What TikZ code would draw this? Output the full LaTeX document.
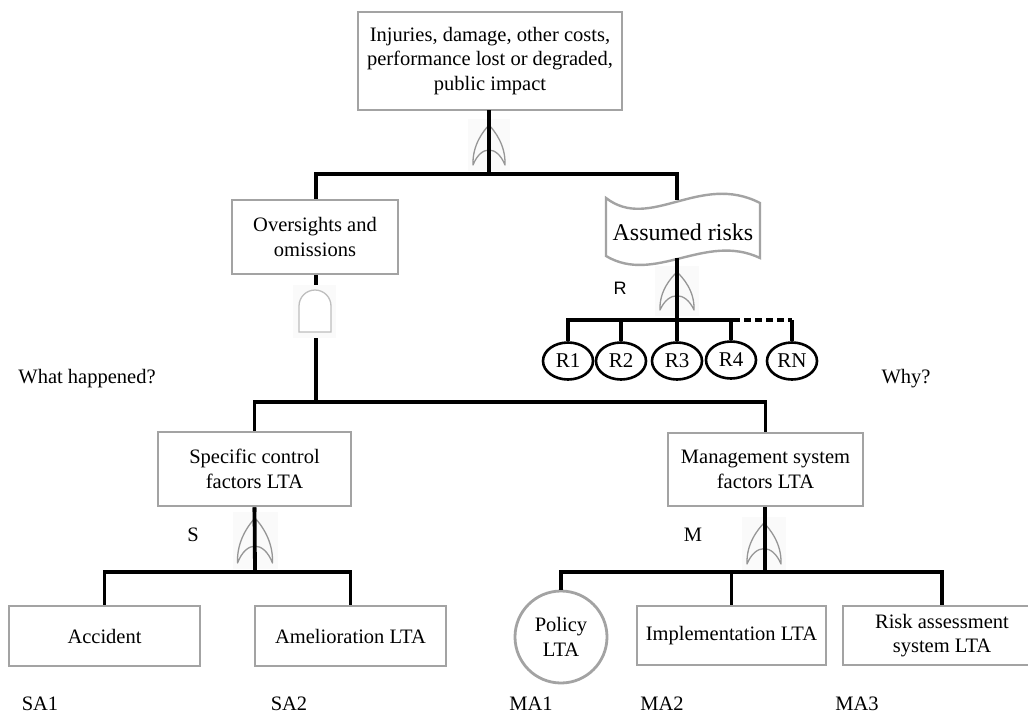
\documentclass[tikz,border=0pt]{standalone}
\usepackage{fontspec}
\usetikzlibrary{shapes.geometric}
\setmainfont{Liberation Serif}
\newfontfamily\labelsans{Liberation Sans}
\definecolor{boxgray}{RGB}{163,163,163}
\definecolor{gategray}{RGB}{150,150,150}
\definecolor{andgray}{RGB}{190,190,190}
\tikzset{
  conn/.style={line width=3.8pt, black},
  ebox/.style={draw=boxgray, line width=2.8pt, fill=white, rectangle, align=center,
               font=\fontsize{20.5}{24.5}\selectfont, inner sep=0pt},
  risknode/.style={draw=black, line width=2.6pt, ellipse, minimum width=50pt, minimum height=37pt,
                   inner sep=0pt, fill=white, font=\fontsize{21}{22}\selectfont},
  plain/.style={font=\fontsize{20.5}{24.5}\selectfont, inner sep=0pt},
  orgate/.style={draw=gategray, line width=1.3pt, line join=round},
  andgate/.style={draw=andgray, line width=1.3pt, fill=white},
  haze/.style={fill=black!2, draw=none}
}
% OR gate: #1 centre x, #2 tip y, #3 half width, #4 height
\newcommand{\orgatesym}[4]{%
  \fill[haze] (#1-#3-5,#2-6) rectangle (#1+#3+5,#2+#4+6);
  \draw[orgate] (#1,#2)
    .. controls (#1-0.35*#3,#2+0.15*#4) and (#1-1.05*#3,#2+0.5*#4) .. (#1-#3,#2+#4)
    .. controls (#1-0.5*#3,#2+0.5*#4) and (#1+0.5*#3,#2+0.5*#4) .. (#1+#3,#2+#4)
    .. controls (#1+1.05*#3,#2+0.5*#4) and (#1+0.35*#3,#2+0.15*#4) .. cycle;}
\begin{document}
\begin{tikzpicture}[x=1pt,y=-1pt]
\clip (0,0) rectangle (1028,715);
\fill[white] (0,0) rectangle (1028,715);

% ---- event boxes ----
\node[ebox, minimum width=264pt, minimum height=98pt] (top) at (490,61)
  {Injuries, damage, other costs,\\performance lost or degraded,\\public impact};
\node[ebox, minimum width=166pt, minimum height=74pt] (over) at (315,237)
  {Oversights and\\omissions};
\node[ebox, minimum width=193pt, minimum height=74pt] (spec) at (254.5,469)
  {Specific control\\factors LTA};
\node[ebox, minimum width=195pt, minimum height=73pt] (mgmt) at (765.5,469.5)
  {Management system\\factors LTA};
\node[ebox, minimum width=191pt, minimum height=60pt] (acc) at (104.5,636) {Accident};
\node[ebox, minimum width=191pt, minimum height=60pt] (amel) at (350.5,636) {Amelioration LTA};
\node[ebox, circle, minimum size=92pt] (policy) at (561,637) {Policy\\LTA};
\node[ebox, minimum width=189pt, minimum height=59pt] (impl) at (731.5,635.5) {Implementation LTA};
\node[ebox, minimum width=198pt, minimum height=59pt] (risk) at (942,635.5) {Risk assessment\\system LTA};

% ---- assumed risks (tape shape) ----
\draw[draw=boxgray, line width=2.4pt, fill=white]
  (606,198) .. controls (650,232) and (700,172) .. (760,203)
  -- (760,258) .. controls (705,232) and (655,285) .. (606,256) -- cycle;
\node[plain, font=\fontsize{24}{26}\selectfont] (assumed) at (683,232) {Assumed risks};
\coordinate (arTop) at (677,200);
\coordinate (arBot) at (677,258);

% ---- junction points ----
\coordinate (j1) at (489,174);
\coordinate (j2) at (316,402);
\coordinate (jS) at (255,572);
\coordinate (jM) at (765,572);
\coordinate (jR) at (677,320);

% ---- connectors ----
\draw[conn] (top.south -| j1) -- (j1);
\draw[conn] (over.north -| j2) |- (j1) -| (arTop);
\draw[conn] (over.south -| j2) -- (316,290);
\draw[conn] (316,334) -- (j2);
\draw[conn] (spec.north) |- (j2) -| (mgmt.north);
\draw[conn] (spec.south) -- (jS);
\draw[conn] (acc.north) |- (jS) -| (amel.north);
\draw[conn] (mgmt.south -| jM) -- (jM);
\draw[conn] (policy.north) |- (jM) -| (risk.north);
\draw[conn] (jM) -| (impl.north);

% risk ellipses
\node[risknode] (r1) at (568,361) {R1};
\node[risknode] (r2) at (621,361) {R2};
\node[risknode] (r3) at (677,361) {R3};
\node[risknode] (r4) at (731,360) {R4};
\node[risknode] (rn) at (792,361) {RN};
\draw[conn] (arBot) -- (jR);
\draw[conn] (r1.north) |- (jR);
\draw[conn] (jR) -| (r4.north);
\draw[conn] (r2.north) -- (r2.north |- jR);
\draw[conn] (r3.north) -- (jR);
\draw[conn, dash pattern=on 7pt off 4pt] (733,320) -- (792,320);
\draw[conn] (rn.north) -- (rn.north |- jR);

% ---- gates ----
\orgatesym{489}{125}{16}{40}
\draw[conn] (489,110) -- (j1);
\orgatesym{677}{272}{17}{38}
\draw[conn] (arBot) -- (jR);
\orgatesym{255}{518}{17.5}{45}
\draw[conn] (spec.south) -- (jS);
\orgatesym{764}{523}{17}{41}
\draw[conn] (mgmt.south -| jM) -- (jM);
% AND gate
\fill[haze] (293,285) rectangle (336,338);
\draw[andgate] (299,332) -- (299,306) arc[start angle=180, end angle=360, radius=16] -- (331,332) -- cycle;

% ---- annotations ----
\node[plain] (qwhat) at (87,379) {What happened?};
\node[plain] (qwhy) at (906,379) {Why?};
\node[plain] (lblS) at (193,535) {S};
\node[plain] (lblM) at (693,535) {M};
\node[inner sep=0pt, font=\labelsans\fontsize{18}{20}\selectfont] (lblR) at (620,288) {R};
\node[plain] (sa1) at (40,704) {SA1};
\node[plain] (sa2) at (289,704) {SA2};
\node[plain] (ma1) at (531,704) {MA1};
\node[plain] (ma2) at (662,704) {MA2};
\node[plain] (ma3) at (857,704) {MA3};
\end{tikzpicture}
\end{document}
